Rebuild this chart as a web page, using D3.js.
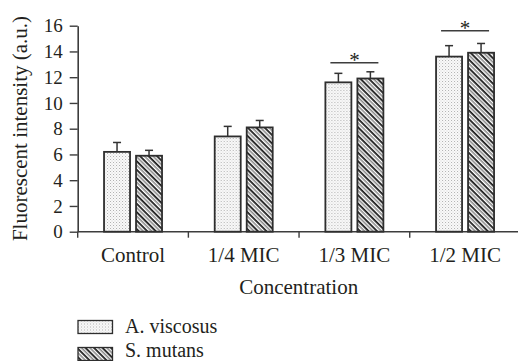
<!DOCTYPE html>
<html>
<head>
<meta charset="utf-8">
<script src="https://cdn.jsdelivr.net/npm/d3@7"></script>
<style>
  html, body { margin: 0; padding: 0; background: #fff; }
  svg { display: block; font-family: "Liberation Serif", serif; }
  svg text { font-family: "Liberation Serif", serif !important; fill: #231f20; }
</style>
</head>
<body>
<svg id="chart" width="518" height="361"></svg>
<script>
// ---- data ----
const categories = ["Control", "1/4 MIC", "1/3 MIC", "1/2 MIC"];
const seriesNames = ["A. viscosus", "S. mutans"];
const viscosusValues = [6.2, 7.4, 11.6, 13.6];
const viscosusErrors = [0.73, 0.78, 0.7, 0.85];
const mutansValues = [5.9, 8.1, 11.9, 13.9];
const mutansErrors = [0.42, 0.54, 0.52, 0.72];
const yTicks = [0, 2, 4, 6, 8, 10, 12, 14, 16];
const sigCategories = ["1/3 MIC", "1/2 MIC"];
const sigLevels = [13.13, 15.61];
const yLabel = "Fluorescent intensity (a.u.)";
const xLabel = "Concentration";

const FONT = "Liberation Serif";
const svg = d3.select("#chart");
const axisColor = "#3d3d3d";

// ---- patterns ----
const defs = svg.append("defs");
const dots = defs.append("pattern").attr("id", "dots")
  .attr("patternUnits", "userSpaceOnUse").attr("width", 3).attr("height", 3);
dots.append("rect").attr("width", 3).attr("height", 3).attr("fill", "#fafafa");
dots.append("rect").attr("x", 0).attr("y", 0).attr("width", 1).attr("height", 1).attr("fill", "#b0b0b0");
dots.append("rect").attr("x", 1.5).attr("y", 1.5).attr("width", 1).attr("height", 1).attr("fill", "#cfcfcf");

const hatch = defs.append("pattern").attr("id", "hatch")
  .attr("patternUnits", "userSpaceOnUse").attr("width", 6).attr("height", 6)
  .attr("patternTransform", "rotate(45)");
hatch.append("rect").attr("width", 6).attr("height", 6).attr("fill", "#ffffff");
hatch.append("rect").attr("x", 0).attr("y", 0).attr("width", 6).attr("height", 1.8).attr("fill", "#1a1a1a");
hatch.append("rect").attr("x", 0).attr("y", 3).attr("width", 6).attr("height", 1.6).attr("fill", "#8a8a8a");

const fills = ["url(#dots)", "url(#hatch)"];

// ---- scales ----
const y = d3.scaleLinear().domain([0, 16]).range([231.7, 25.7]);
const x = d3.scaleBand().domain(categories).range([77.7, 520.4]).paddingInner(0).paddingOuter(0);
const xSub = d3.scaleBand().domain(seriesNames).range([0, 58]).paddingInner(0.1875);
const subOffset = (x.bandwidth() - 58) / 2;

const data = categories.map((c, i) => ({
  cat: c,
  bars: [
    { s: seriesNames[0], v: viscosusValues[i], e: viscosusErrors[i] },
    { s: seriesNames[1], v: mutansValues[i], e: mutansErrors[i] }
  ]
}));

// ---- y axis ----
const yAxis = svg.append("g").attr("transform", `translate(${x.range()[0]},0)`)
  .call(d3.axisLeft(y).tickValues(yTicks).tickSize(8).tickPadding(7).tickSizeOuter(0));
yAxis.attr("font-family", FONT).attr("font-size", 19);
yAxis.select(".domain").attr("stroke", axisColor).attr("stroke-width", 1.6);
yAxis.selectAll(".tick line").attr("stroke", axisColor).attr("stroke-width", 1.4);
yAxis.selectAll(".tick text").style("font-family", FONT).style("font-size", "19px").attr("fill", "#231f20");

// ---- x axis ----
const xAxisG = svg.append("g").attr("transform", `translate(0,${y(0)})`);
xAxisG.append("line").attr("x1", x.range()[0]).attr("x2", x.range()[1])
  .attr("stroke", axisColor).attr("stroke-width", 1.6);
const boundaries = categories.map(c => x(c)).concat([x.range()[1]]);
xAxisG.selectAll("line.tk").data(boundaries).join("line").attr("class", "tk")
  .attr("x1", d => d).attr("x2", d => d).attr("y1", 0).attr("y2", 6)
  .attr("stroke", axisColor).attr("stroke-width", 1.4);
xAxisG.selectAll("text.cat").data(categories).join("text").attr("class", "cat")
  .attr("x", d => x(d) + x.bandwidth() / 2).attr("y", 30)
  .attr("text-anchor", "middle").style("font-family", FONT).style("font-size", "21px").text(d => d);

// ---- bars ----
const groups = svg.append("g").selectAll("g").data(data).join("g")
  .attr("transform", d => `translate(${x(d.cat) + subOffset},0)`);
groups.selectAll("rect").data(d => d.bars).join("rect")
  .attr("x", d => xSub(d.s)).attr("width", xSub.bandwidth())
  .attr("y", d => y(d.v)).attr("height", d => y(0) - y(d.v))
  .attr("fill", (d, i) => fills[i]).attr("stroke", "#2e2e2e").attr("stroke-width", 1.8);
// error bars
groups.selectAll("line.err").data(d => d.bars).join("line").attr("class", "err")
  .attr("x1", d => xSub(d.s) + xSub.bandwidth() / 2).attr("x2", d => xSub(d.s) + xSub.bandwidth() / 2)
  .attr("y1", d => y(d.v)).attr("y2", d => y(d.v + d.e))
  .attr("stroke", "#333").attr("stroke-width", 1.5);
groups.selectAll("line.cap").data(d => d.bars).join("line").attr("class", "cap")
  .attr("x1", d => xSub(d.s) + xSub.bandwidth() / 2 - 4).attr("x2", d => xSub(d.s) + xSub.bandwidth() / 2 + 4)
  .attr("y1", d => y(d.v + d.e)).attr("y2", d => y(d.v + d.e))
  .attr("stroke", "#333").attr("stroke-width", 1.5);

// ---- significance markers ----
const sig = svg.append("g").selectAll("g").data(sigCategories.map((c, i) => ({ c, lvl: sigLevels[i] })))
  .join("g");
sig.append("line")
  .attr("x1", d => x(d.c) + x.bandwidth() / 2 - 24).attr("x2", d => x(d.c) + x.bandwidth() / 2 + 24)
  .attr("y1", d => y(d.lvl)).attr("y2", d => y(d.lvl))
  .attr("stroke", "#3d3d3d").attr("stroke-width", 1.5);
sig.append("text")
  .attr("x", d => x(d.c) + x.bandwidth() / 2).attr("y", d => y(d.lvl) + 4)
  .attr("text-anchor", "middle").style("font-family", FONT).style("font-size", "21px").text("*");

// ---- axis titles ----
svg.append("text").attr("transform", "translate(26.7,128.5) rotate(-90)")
  .attr("text-anchor", "middle").style("font-family", FONT).style("font-size", "21px").text(yLabel);
svg.append("text").attr("x", 298.7).attr("y", 293.5).attr("text-anchor", "middle")
  .style("font-family", FONT).style("font-size", "21px").text(xLabel);

// ---- legend ----
const legend = svg.append("g").selectAll("g").data(seriesNames).join("g")
  .attr("transform", (d, i) => `translate(78,${320.5 + i * 27})`);
legend.append("rect").attr("width", 34.5).attr("height", 13)
  .attr("fill", (d, i) => fills[i]).attr("stroke", "#2e2e2e").attr("stroke-width", 1.3);
legend.append("text").attr("x", 47).attr("y", (d, i) => i === 0 ? 12.8 : 9.2)
  .style("font-family", FONT).style("font-size", "20px").text(d => d);
</script>
</body>
</html>
